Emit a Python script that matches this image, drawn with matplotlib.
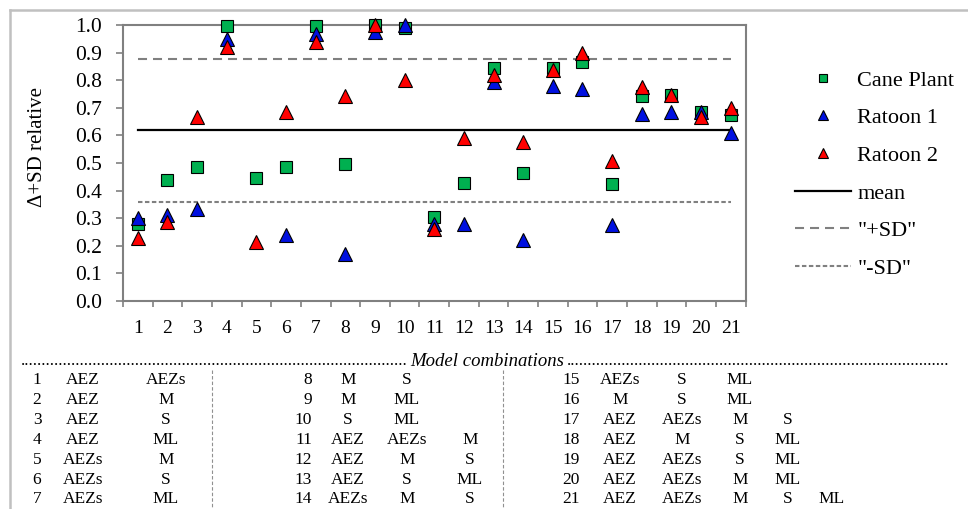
import matplotlib
matplotlib.use("Agg")
import matplotlib.pyplot as plt
from matplotlib.lines import Line2D

plt.rcParams['font.family'] = ['Liberation Serif', 'DejaVu Serif']
plt.rcParams['lines.scale_dashes'] = False

# ---------------- data ----------------
combos = list(range(1, 22))
cane_plant = [0.28, 0.44, 0.485, 0.995, 0.445, 0.485, 0.995, 0.497, 1.0, 0.99, 0.304,
              0.427, 0.845, 0.463, 0.845, 0.867, 0.424, 0.742, 0.746, 0.684, 0.674]
ratoon1 = [0.30, 0.31, 0.335, 0.95, None, 0.238, 0.968, 0.172, 0.973, 1.0, 0.28,
           0.28, 0.795, 0.22, 0.779, 0.767, 0.275, 0.679, 0.686, 0.684, 0.61]
ratoon2 = [0.23, 0.285, 0.667, 0.92, 0.215, 0.686, 0.94, 0.744, 1.0, 0.80, 0.26,
           0.59, 0.818, 0.577, 0.838, 0.897, 0.508, 0.774, 0.746, 0.665, 0.70]
mean_val = 0.62
plus_sd = 0.877
minus_sd = 0.358
yticks = [0.0, 0.1, 0.2, 0.3, 0.4, 0.5, 0.6, 0.7, 0.8, 0.9, 1.0]

table_rows = [
    ["AEZ", "AEZs"], ["AEZ", "M"], ["AEZ", "S"], ["AEZ", "ML"], ["AEZs", "M"],
    ["AEZs", "S"], ["AEZs", "ML"],
    ["M", "S"], ["M", "ML"], ["S", "ML"], ["AEZ", "AEZs", "M"], ["AEZ", "M", "S"],
    ["AEZ", "S", "ML"], ["AEZs", "M", "S"],
    ["AEZs", "S", "ML"], ["M", "S", "ML"], ["AEZ", "AEZs", "M", "S"],
    ["AEZ", "M", "S", "ML"], ["AEZ", "AEZs", "S", "ML"], ["AEZ", "AEZs", "M", "ML"],
    ["AEZ", "AEZs", "M", "S", "ML"],
]

# ---------------- figure ----------------
W, H = 968, 509
fig = plt.figure(figsize=(W / 100, H / 100), dpi=100)

def fx(px):
    return px / W

def fy(py):
    return 1 - py / H

ax = fig.add_axes([fx(123), fy(301), fx(745.5) - fx(123), fy(25) - fy(301)])

green = '#00B050'
blue = '#0010E0'
red = '#FF0000'
gray = '#808080'

x1 = [c for c, v in zip(combos, ratoon1) if v is not None]
y1 = [v for v in ratoon1 if v is not None]

ax.plot(combos, cane_plant, linestyle='none', marker='s', markersize=8,
        markerfacecolor=green, markeredgecolor='black', markeredgewidth=0.8,
        label='Cane Plant', zorder=4, clip_on=False)
ax.plot(x1, y1, linestyle='none', marker='^', markersize=9.5,
        markerfacecolor=blue, markeredgecolor='black', markeredgewidth=0.8,
        label='Ratoon 1', zorder=5, clip_on=False)
ax.plot(combos, ratoon2, linestyle='none', marker='^', markersize=9.5,
        markerfacecolor=red, markeredgecolor='black', markeredgewidth=0.8,
        label='Ratoon 2', zorder=6, clip_on=False)

ax.plot([combos[0], combos[-1]], [mean_val, mean_val], color='black', lw=1.6,
        label='mean', zorder=3)
ax.plot([combos[0], combos[-1]], [plus_sd, plus_sd], color=gray, lw=1.5,
        dashes=(6.5, 4.3), label='"+SD"', zorder=3)
ax.plot([combos[0], combos[-1]], [minus_sd, minus_sd], color=gray, lw=1.5,
        dashes=(3.2, 1.8), label='"-SD"', zorder=3)

ax.set_xlim(0.5, 21.5)
ax.set_ylim(0, 1.0)
ax.set_yticks(yticks)
ax.set_yticklabels(['%.1f' % v for v in yticks])
ax.set_xticks([c - 0.5 for c in combos] + [combos[-1] + 0.5])
ax.set_xticklabels([])
ax.set_xticks(combos, minor=True)
ax.set_xticklabels([str(c) for c in combos], minor=True)
ax.tick_params(axis='x', which='major', direction='out', length=4, width=1.2, color=gray)
ax.tick_params(axis='x', which='minor', length=0, pad=14, labelsize=14)
ax.tick_params(axis='y', direction='out', length=5, width=1.2, color=gray,
               pad=10, labelsize=15.5)
for s in ax.spines.values():
    s.set_color(gray)
    s.set_linewidth(1.5)

fig.text(fx(38), fy(147), 'Δ+SD relative', rotation=90, ha='center', va='center',
         fontsize=15)

leg = ax.legend(loc='upper left', bbox_to_anchor=(fx(795), fy(70)),
                bbox_transform=fig.transFigure, frameon=False, fontsize=16,
                handlelength=2.5, handletextpad=0.3, labelspacing=0.77,
                borderpad=0, borderaxespad=0, markerscale=0.8)

# ---------------- figure frame (partial border) ----------------
fig.add_artist(Line2D([fx(10), fx(968)], [fy(10), fy(10)], color='#c0c0c0', lw=1.8))
fig.add_artist(Line2D([fx(10), fx(10)], [fy(10), fy(509)], color='#c0c0c0', lw=1.8))

# ---------------- model combinations heading ----------------
ty = fy(361)
fig.text(fx(408), ty, '.' * 91, ha='right', va='center', fontsize=12.5)
fig.text(fx(487), ty, 'Model combinations', ha='center', va='center',
         fontsize=13.5, style='italic')
fig.text(fx(567), ty, '.' * 90, ha='left', va='center', fontsize=12.5)

# ---------------- table ----------------
row_y = [380, 400, 420, 440, 459.5, 479.5, 499]
blocks = [
    dict(num_x=37, num_ha='center', cols=[83, 166]),
    dict(num_x=312, num_ha='right', cols=[348, 407, 470]),
    dict(num_x=580, num_ha='right', cols=[620, 682, 740, 788, 832]),
]
for i, row in enumerate(table_rows):
    b = blocks[i // 7]
    yy = fy(row_y[i % 7])
    fig.text(fx(b['num_x']), yy, str(i + 1), ha=b['num_ha'], va='center', fontsize=12.5)
    for j, item in enumerate(row):
        fig.text(fx(b['cols'][j]), yy, item, ha='center', va='center', fontsize=12.5)

for sx in (212, 503):
    fig.add_artist(Line2D([fx(sx), fx(sx)], [fy(370), fy(509)], color='#909090',
                          lw=0.8, dashes=(2.5, 1.5)))

fig.savefig('out.png', dpi=100)
